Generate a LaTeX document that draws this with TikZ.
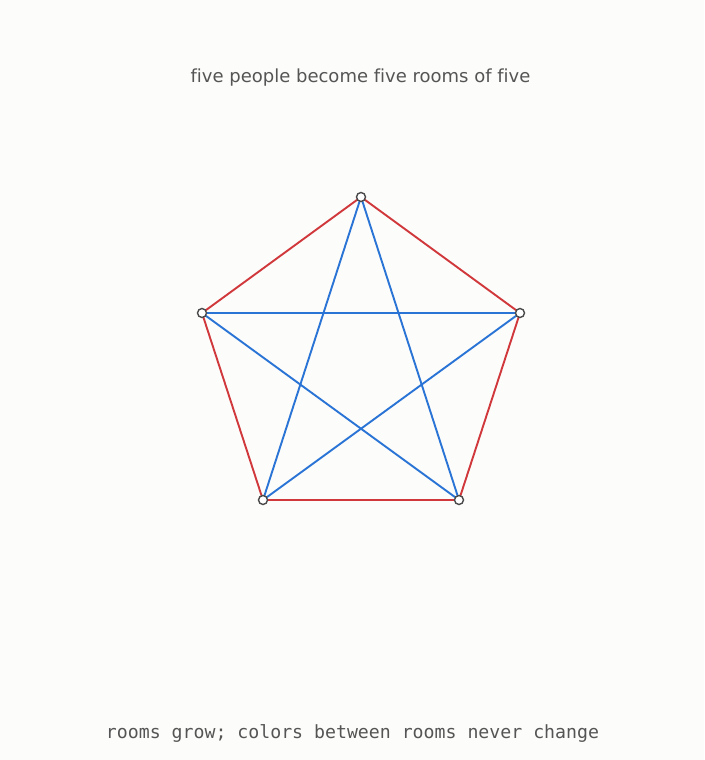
\documentclass[tikz,border=0pt]{standalone}
\usepackage{fontspec}
\setmainfont[Ligatures={NoCommon,NoRequired,NoContextual}]{DejaVu Sans}
\setmonofont{DejaVu Sans Mono}
\definecolor{bg}{HTML}{FCFCFA}
\definecolor{txt}{HTML}{555555}
\definecolor{redE}{HTML}{D0383C}
\definecolor{blueE}{HTML}{2A74D6}
\definecolor{ring}{HTML}{4A4A4A}
\tikzset{
  vert/.style={circle,draw=ring,fill=white,line width=1.4pt,inner sep=0pt,minimum size=9pt},
  outer/.style={draw=redE,line width=1.9pt},
  diag/.style={draw=blueE,line width=1.9pt},
  lbl/.style={text=txt,inner sep=0pt,anchor=base}
}
\begin{document}
\begin{tikzpicture}[x=1pt,y=-1pt]
\fill[bg] (0,0) rectangle (704,760);
\useasboundingbox (0,0) rectangle (704,760);
\node[lbl,font=\fontsize{18}{20}\selectfont] (title) at (360.5,82) {five people become five rooms of five};
\node[lbl,font=\ttfamily\fontsize{18.2}{21}\selectfont] (foot) at (352.5,738) {rooms grow; colors between rooms never change};
\coordinate (A) at (361,197);
\coordinate (B) at (520,313);
\coordinate (C) at (459,500);
\coordinate (D) at (263,500);
\coordinate (E) at (202,313);
\draw[outer] (A) -- (B) -- (C) -- (D) -- (E) -- cycle;
\draw[diag] (A) -- (C);
\draw[diag] (A) -- (D);
\draw[diag] (B) -- (D);
\draw[diag] (B) -- (E);
\draw[diag] (C) -- (E);
\node[vert] (vA) at (A) {};
\node[vert] (vB) at (B) {};
\node[vert] (vC) at (C) {};
\node[vert] (vD) at (D) {};
\node[vert] (vE) at (E) {};
\end{tikzpicture}
\end{document}
